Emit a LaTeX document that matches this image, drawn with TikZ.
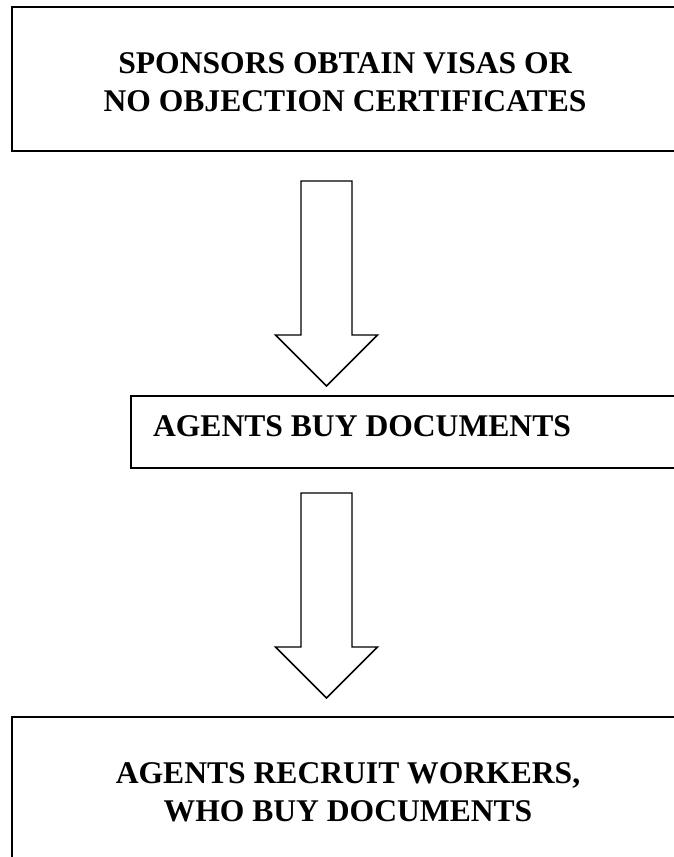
\documentclass[tikz,border=0pt]{standalone}
\usepackage{fontspec}
\setmainfont{Liberation Serif}
\usetikzlibrary{calc}
\begin{document}
\begin{tikzpicture}[x=0.75pt,y=-0.75pt,
  box/.style={draw,line width=1.5pt,rectangle,inner sep=0pt,anchor=north west},
  lbl/.style={font=\fontsize{23.7}{28.5}\selectfont\bfseries,align=center,inner sep=0pt},
  blockarrow/.style={draw,line width=1.1pt,line join=miter,fill=white}]
\useasboundingbox (0,0) rectangle (674,857);
\clip (0,0) rectangle (674,857);
% boxes
\node[box,minimum width=501.75pt,minimum height=108pt] (topbox) at (11,6) {};
\node[box,minimum width=412.5pt,minimum height=54pt] (midbox) at (130,395) {};
\node[box,minimum width=501.75pt,minimum height=138pt] (botbox) at (11,716) {};
% labels
\node[lbl] (toptext) at (345,82) {SPONSORS OBTAIN VISAS OR\\NO OBJECTION CERTIFICATES};
\node[lbl,anchor=base] (midtext) at (362,436) {AGENTS BUY DOCUMENTS};
\node[lbl] (bottext) at (348,792) {AGENTS RECRUIT WORKERS,\\WHO BUY DOCUMENTS};
% block arrows
\coordinate (a1) at ($(topbox.south west)+(315.5,29)$);
\coordinate (a2) at ($(midbox.south west)+(196.5,24)$);
\draw[blockarrow] (a1) ++(-25.5,0) -- ++(0,154) -- ++(-25.5,0) -- ++(51,51) -- ++(51,-51) -- ++(-25.5,0) -- ++(0,-154) -- cycle;
\draw[blockarrow] (a2) ++(-25.5,0) -- ++(0,154) -- ++(-25.5,0) -- ++(51,51) -- ++(51,-51) -- ++(-25.5,0) -- ++(0,-154) -- cycle;
\end{tikzpicture}
\end{document}
